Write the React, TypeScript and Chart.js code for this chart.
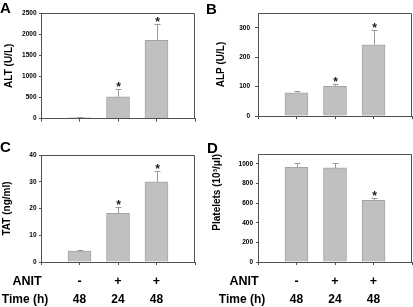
import React, { useEffect, useRef } from 'react';
import { Chart, registerables } from 'chart.js';

Chart.register(...registerables);

// ---------- data ----------
const slots = ['', 'g1', 'g2', 'g3', ''];
const anitLabels = ['-', '+', '+'];
const timeLabels = ['48', '24', '48'];

const altValues = [20, 515, 1855];
const altErrors = [8, 185, 375];
const altStars = [false, true, true];
const altTicks = [0, 500, 1000, 1500, 2000, 2500];

const alpValues = [79, 101, 242];
const alpErrors = [5, 7, 50];
const alpStars = [false, true, true];
const alpTicks = [0, 100, 200, 300];

const tatValues = [4.1, 18.2, 30];
const tatErrors = [0.5, 2.3, 4];
const tatStars = [false, true, true];
const tatTicks = [0, 10, 20, 30, 40];

const pltValues = [965, 958, 628];
const pltErrors = [42, 48, 20];
const pltStars = [false, false, true];
const pltTicks = [0, 200, 400, 600, 800, 1000];

// ---------- styling ----------
const FONT = "'Liberation Sans', Arial, Helvetica, sans-serif";
const AXIS = '#505050';
const BAR_FILL = '#c0c0c0';
const BAR_EDGE = '#a4a4a4';
const ERR = '#9a9a9a';

type Panel = {
  letter: string;
  letterPos: { left: number; top: number };
  title: string;
  titleAlign: 'start' | 'center' | 'end';
  values: number[];
  errors: number[];
  stars: boolean[];
  ticks: number[];
  max: number;
  box: { left: number; top: number; width: number; height: number };
  pad: { top: number; right: number; bottom: number };
  axisWidth: number;
  titlePad: number;
  tickPad: number;
  tickLen: number;
  footer: boolean;
};

const panels: Panel[] = [
  {
    letter: 'A', letterPos: { left: 0, top: 0 },
    title: 'ALT (U/L)', titleAlign: 'center', values: altValues, errors: altErrors, stars: altStars,
    ticks: altTicks, max: 2500,
    box: { left: 0, top: 0, width: 200, height: 125 },
    pad: { top: 13, right: 5, bottom: 0 }, axisWidth: 41, titlePad: 3, tickPad: 2.5, tickLen: 2, footer: false,
  },
  {
    letter: 'B', letterPos: { left: 206, top: 1 },
    title: 'ALP (U/L)', titleAlign: 'center', values: alpValues, errors: alpErrors, stars: alpStars,
    ticks: alpTicks, max: 350,
    box: { left: 212, top: 0, width: 201, height: 125 },
    pad: { top: 13, right: 1, bottom: 0 }, axisWidth: 46, titlePad: 3, tickPad: 5, tickLen: 3, footer: false,
  },
  {
    letter: 'C', letterPos: { left: 0, top: 139 },
    title: 'TAT (ng/ml)', titleAlign: 'center', values: tatValues, errors: tatErrors, stars: tatStars,
    ticks: tatTicks, max: 40,
    box: { left: 0, top: 142, width: 200, height: 165 },
    pad: { top: 13, right: 5, bottom: 39 }, axisWidth: 41, titlePad: 1.5, tickPad: 2.5, tickLen: 2, footer: true,
  },
  {
    letter: 'D', letterPos: { left: 207, top: 140 },
    title: 'Platelets (10\u00B3/\u03BCl)', titleAlign: 'end', values: pltValues, errors: pltErrors, stars: pltStars,
    ticks: pltTicks, max: 1100,
    box: { left: 209, top: 142, width: 204, height: 165 },
    pad: { top: 12, right: 1, bottom: 39 }, axisWidth: 49, titlePad: 2.5, tickPad: 3, tickLen: 2, footer: true,
  },
];

function PanelChart({ p }: { p: Panel }) {
  const ref = useRef<HTMLCanvasElement | null>(null);

  useEffect(() => {
    if (!ref.current) return;

    const errorPlugin = {
      id: 'errorBars' + p.letter,
      afterDatasetsDraw(chart: any) {
        const meta = chart.getDatasetMeta(0);
        const y = chart.scales.y;
        const ctx = chart.ctx;
        ctx.save();
        meta.data.forEach((bar: any, i: number) => {
          const k = i - 1;
          if (k < 0 || k >= p.values.length) return;
          const top = y.getPixelForValue(p.values[k] + p.errors[k]);
          const x = Math.round(bar.x) + 0.5;
          ctx.strokeStyle = ERR;
          ctx.lineWidth = 1;
          ctx.beginPath();
          ctx.moveTo(x, bar.y);
          ctx.lineTo(x, top);
          ctx.moveTo(x - 3, Math.round(top) + 0.5);
          ctx.lineTo(x + 3, Math.round(top) + 0.5);
          ctx.stroke();
          if (p.stars[k]) {
            ctx.fillStyle = '#1a1a1a';
            ctx.font = `bold 12px ${FONT}`;
            ctx.textAlign = 'center';
            ctx.textBaseline = 'alphabetic';
            ctx.fillText('*', x, top + 2);
          }
        });
        ctx.restore();
      },
    };

    const framePlugin = {
      id: 'frame' + p.letter,
      afterDraw(chart: any) {
        const { left, right, top, bottom } = chart.chartArea;
        const ctx = chart.ctx;
        ctx.save();
        ctx.strokeStyle = AXIS;
        ctx.lineWidth = 1;
        ctx.beginPath();
        const t = Math.round(top) + 0.5;
        const r = Math.round(right) - 0.5;
        ctx.moveTo(Math.round(left), t);
        ctx.lineTo(r, t);
        ctx.lineTo(r, Math.round(bottom));
        ctx.stroke();
        ctx.restore();
      },
    };

    const footerPlugin = {
      id: 'footer' + p.letter,
      afterDraw(chart: any) {
        if (!p.footer) return;
        const ctx = chart.ctx;
        const x = chart.scales.x;
        const left = chart.chartArea.left;
        const bottom = chart.chartArea.bottom;
        ctx.save();
        ctx.fillStyle = '#000';
        ctx.textAlign = 'center';
        ctx.textBaseline = 'alphabetic';
        const y1 = bottom + 22.5;
        const y2 = bottom + 40.5;
        ctx.font = `bold 12.5px ${FONT}`;
        ctx.fillText('ANIT', left - 14, y1);
        ctx.font = `bold 12px ${FONT}`;
        ctx.fillText('Time (h)', left - 16, y2);
        ctx.font = `bold 12.5px ${FONT}`;
        anitLabels.forEach((s, i) => ctx.fillText(s, x.getPixelForValue(i + 1), y1));
        ctx.font = `bold 12px ${FONT}`;
        timeLabels.forEach((s, i) => ctx.fillText(s, x.getPixelForValue(i + 1), y2));
        ctx.restore();
      },
    };

    const chart = new Chart(ref.current, {
      type: 'bar',
      data: {
        labels: slots,
        datasets: [
          {
            data: [null, ...p.values, null],
            backgroundColor: BAR_FILL,
            borderColor: BAR_EDGE,
            borderWidth: 1,
            barThickness: 23,
          },
        ],
      },
      options: {
        animation: false,
        responsive: false,
        maintainAspectRatio: false,
        devicePixelRatio: 1,
        layout: { padding: { left: 0, top: p.pad.top, right: p.pad.right, bottom: p.pad.bottom } },
        plugins: {
          legend: { display: false },
          tooltip: { enabled: false },
        },
        scales: {
          x: {
            type: 'category',
            offset: false,
            grid: {
              display: true,
              offset: false,
              drawOnChartArea: false,
              drawTicks: true,
              tickLength: 3,
              color: AXIS,
            },
            border: { display: true, color: AXIS, width: 1 },
            ticks: { display: false },
            afterFit: (s: any) => {
              s.height = 6;
            },
          },
          y: {
            type: 'linear',
            min: 0,
            max: p.max,
            afterBuildTicks: (s: any) => {
              s.ticks = p.ticks.map((v) => ({ value: v }));
            },
            grid: {
              display: true,
              drawOnChartArea: false,
              drawTicks: true,
              tickLength: p.tickLen,
              color: AXIS,
            },
            border: { display: true, color: AXIS, width: 1 },
            ticks: {
              color: '#000',
              padding: p.tickPad,
              font: { family: FONT, size: 6.5, weight: 'bold' },
              callback: (v: any) => String(v),
            },
            title: {
              display: true,
              text: p.title,
              align: p.titleAlign,
              color: '#000',
              font: { family: FONT, size: 10, weight: 'bold' },
              padding: { top: p.titlePad, bottom: 0 },
            },
            afterFit: (s: any) => {
              s.width = p.axisWidth;
            },
          },
        },
      } as any,
      plugins: [errorPlugin, framePlugin, footerPlugin],
    });

    return () => chart.destroy();
  }, [p]);

  return (
    <canvas
      ref={ref}
      width={p.box.width}
      height={p.box.height}
      style={{
        position: 'absolute',
        left: p.box.left,
        top: p.box.top,
        width: p.box.width,
        height: p.box.height,
      }}
    />
  );
}

export default function App() {
  useEffect(() => {
    document.body.style.margin = '0';
  }, []);
  return (
    <div
      style={{
        position: 'absolute',
        left: 0,
        top: 0,
        width: 413,
        height: 307,
        background: '#fff',
        overflow: 'hidden',
        fontFamily: FONT,
      }}
    >
      {panels.map((p) => (
        <PanelChart key={p.letter} p={p} />
      ))}
      {panels.map((p) => (
        <div
          key={'L' + p.letter}
          style={{
            position: 'absolute',
            left: p.letterPos.left,
            top: p.letterPos.top,
            fontSize: 15,
            lineHeight: '15px',
            fontWeight: 'bold',
            color: '#000',
          }}
        >
          {p.letter}
        </div>
      ))}
    </div>
  );
}
